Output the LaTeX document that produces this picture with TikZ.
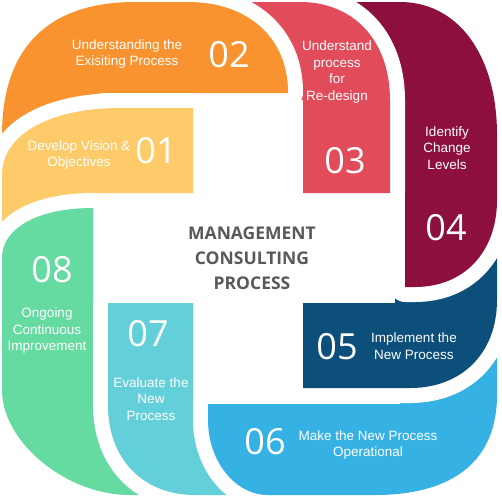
\documentclass[tikz,border=0pt]{standalone}
\usepackage{fontspec}
\setmainfont{Liberation Sans}
\newfontfamily\numfont{Open Sans}
\newfontfamily\headfont{Open Sans}
\definecolor{c01}{HTML}{FDCB6A}
\definecolor{c02}{HTML}{F8932F}
\definecolor{c03}{HTML}{E24B59}
\definecolor{c04}{HTML}{8C0F3E}
\definecolor{c05}{HTML}{0B4F7A}
\definecolor{c06}{HTML}{36B1E4}
\definecolor{c07}{HTML}{63CFD9}
\definecolor{c08}{HTML}{65DAA1}
\definecolor{headgray}{HTML}{58595B}
\tikzset{
  piece/.style={preaction={draw=white, line width=30pt, line join=round}},
  lbl/.style={text=white, align=center, inner sep=0pt,
    font=\fontsize{13.5}{16.5}\selectfont},
  num/.style={text=white, inner sep=0pt, font=\numfont\fontsize{36}{36}\selectfont},
  heading/.style={text=headgray, align=center, inner sep=0pt,
    font=\headfont\bfseries\fontsize{17.5}{25}\selectfont},
}

\begin{document}
\begin{tikzpicture}[x=1pt, y=-1pt]
  \useasboundingbox (0,0) rectangle (502,498);

  % segments, each one laid over the tail of the next
  \fill[c08, piece] (93,208) -- (93,400) -- (170,400) -- (170,495) -- (130,495)
    .. controls (66,495) and (2,442) .. (2,390) -- (2,258)
    .. controls (2,228) and (38,208) .. (93,208) -- cycle;
  \fill[c07, piece] (108,303) -- (193,303) -- (193,415) -- (260,415) -- (260,495)
    -- (195,495) .. controls (143,495) and (108,459) .. (108,405) -- cycle;
  \fill[c06, piece] (208,404) -- (400,404) -- (400,330) -- (497,330) -- (497,395)
    .. controls (497,460) and (454,495) .. (375,495) -- (268,495)
    .. controls (235,495) and (208,461) .. (208,420) -- cycle;
  \fill[c05, piece] (303,303) -- (395,303) -- (395,240) -- (497,240) -- (497,300)
    .. controls (497,353) and (462,388) .. (410,388) -- (303,388) -- cycle;
  \fill[c04, piece] (405,287) -- (405,115) -- (345,115) -- (345,2) -- (400,2)
    .. controls (458,2) and (497,55) .. (497,135) -- (497,200)
    .. controls (497,252) and (464,287) .. (415,287) -- cycle;
  \fill[c03, piece] (303,193) -- (303,100) -- (240,100) -- (240,2) -- (300,2)
    .. controls (354,2) and (390,41) .. (390,100) -- (390,193) -- cycle;
  \fill[c02, piece] (2,190) -- (2,135) .. controls (2,48) and (48,2) .. (135,2)
    -- (188,2) .. controls (248,2) and (288,38) .. (288,92) -- (288,93)
    -- (100,93) -- (100,190) -- cycle;
  \fill[c01, piece] (193,108) -- (193,193) -- (93,193) -- (93,265) -- (2,265)
    -- (2,175) .. controls (2,135) and (49,108) .. (120,108) -- cycle;
  % green again over the yellow tail
  \begin{scope}
    \clip (-20,180) rectangle (110,300);
    \fill[c08, piece] (93,208) -- (93,400) -- (2,400) -- (2,258)
      .. controls (2,228) and (38,208) .. (93,208) -- cycle;
  \end{scope}

  % numbers
  \node[num] (num01) at (156,151) {01};
  \node[num] (num02) at (229,55)  {02};
  \node[num] (num03) at (345,161) {03};
  \node[num] (num04) at (446,228) {04};
  \node[num] (num05) at (337,347) {05};
  \node[num] (num06) at (265,442) {06};
  \node[num] (num07) at (148,334) {07};
  \node[num] (num08) at (52,270)  {08};

  % labels
  \node[lbl] (lbl01) at (79,155)  {Develop Vision \&\\Objectives};
  \node[lbl] (lbl02) at (127,54)  {Understanding the\\Exisiting Process};
  \node[lbl] (lbl03) at (337,72)  {Understand\\process\\for\\Re-design};
  \node[lbl] (lbl04) at (447,148) {Identify\\Change\\Levels};
  \node[lbl] (lbl05) at (414,346) {Implement the\\New Process};
  \node[lbl] (lbl06) at (368,445) {Make the New Process\\Operational};
  \node[lbl] (lbl07) at (151,399) {Evaluate the\\New\\Process};
  \node[lbl] (lbl08) at (47,331)  {Ongoing\\Continuous\\Improvement};

  \node[heading] (head) at (252,258) {MANAGEMENT\\CONSULTING\\PROCESS};
\end{tikzpicture}
\end{document}
